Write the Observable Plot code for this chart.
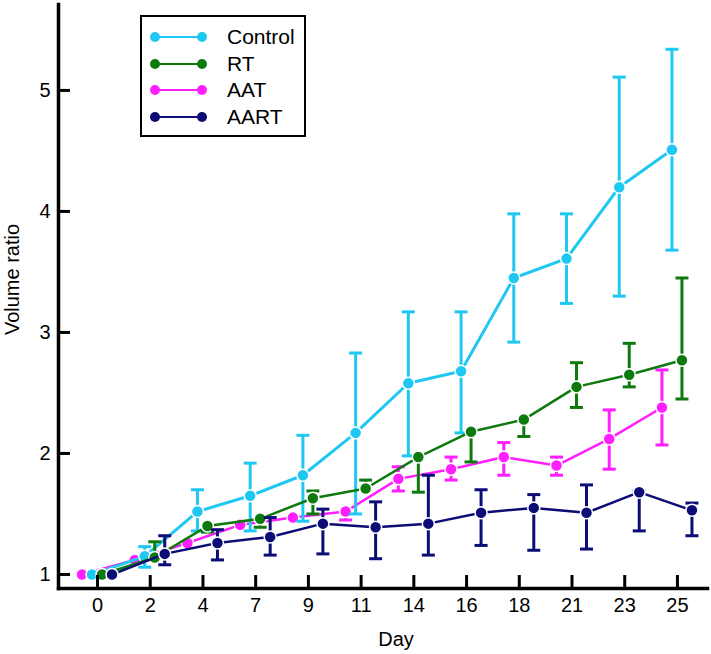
<!DOCTYPE html>
<html>
<head>
<meta charset="utf-8">
<script src="https://cdn.jsdelivr.net/npm/d3@7"></script>
<script src="https://cdn.jsdelivr.net/npm/@observablehq/plot@0.6"></script>
<style>
  body { margin: 0; background: #fff; }
  #wrap { position: relative; width: 711px; height: 654px; font-family: "Liberation Sans", Arial, sans-serif; }
  #legend { position: absolute; left: 140px; top: 15px; width: 162px; height: 118px; border: 2px solid #000; background: #fff; box-sizing: content-box; }
  .row { position: absolute; left: 0; width: 160px; height: 0; }
  .row svg { position: absolute; left: 6px; top: -8px; }
  .row span { position: absolute; left: 85px; top: -13px; font-size: 21px; line-height: 26px; color: #000; white-space: nowrap; }
</style>
</head>
<body>
<div id="wrap"><div id="chart"></div><div id="legend"></div></div>
<script>
// ---- data ----
const days = ["0", "2", "4", "7", "9", "11", "14", "16", "18", "21", "23", "25"];
const seriesNames = ["Control", "RT", "AAT", "AART"];
const seriesColors = ["#1ec8f2", "#0e7a0e", "#ff1eff", "#0c0c76"];

const controlMean = [1.00, 1.15, 1.52, 1.65, 1.82, 2.17, 2.58, 2.68, 3.45, 3.61, 4.20, 4.51];
const controlLow  = [null, 1.06, 1.36, 1.36, 1.44, 1.50, 1.98, 2.17, 2.92, 3.24, 3.30, 3.68];
const controlHigh = [null, 1.23, 1.70, 1.92, 2.15, 2.83, 3.17, 3.17, 3.98, 3.98, 5.11, 5.34];

const rtMean = [1.00, 1.14, 1.40, 1.46, 1.63, 1.71, 1.97, 2.18, 2.28, 2.55, 2.65, 2.77];
const rtLow  = [null, null, 1.35, 1.39, 1.50, null, 1.68, 1.93, 2.14, 2.38, 2.55, 2.45];
const rtHigh = [null, 1.27, null, null, 1.69, 1.78, null, null, null, 2.75, 2.91, 3.45];

const aatMean = [1.00, 1.12, 1.26, 1.41, 1.47, 1.52, 1.79, 1.87, 1.97, 1.90, 2.12, 2.38];
const aatLow  = [null, null, null, null, null, 1.45, 1.69, 1.78, 1.82, 1.82, 1.87, 2.07];
const aatHigh = [null, null, null, null, null, null, 1.89, 1.97, 2.09, 1.97, 2.36, 2.69];

const aartMean = [1.00, 1.17, 1.26, 1.31, 1.42, 1.39, 1.42, 1.51, 1.55, 1.51, 1.68, 1.53];
const aartLow  = [null, 1.08, 1.12, 1.16, 1.17, 1.13, 1.16, 1.24, 1.20, 1.21, 1.36, 1.32];
const aartHigh = [null, 1.32, 1.37, 1.47, 1.54, 1.60, 1.82, 1.70, 1.66, 1.74, 1.69, 1.59];

const yTicks = [1, 2, 3, 4, 5];

// ---- scales config ----
const xMin = -0.74, xMax = 11.57;
const yMin = 0.884, yMax = 5.71;
const W = 711, H = 654, mL = 58, mR = 4, mT = 4, mB = 66;
const frameW = W - mL - mR, frameH = H - mT - mB;
const xTickLen = 13 * (yMax - yMin) / frameH;   // 13px in y units
const yTickLen = 12 * (xMax - xMin) / frameW;   // 12px in x units

const seriesData = [
  {name: "AAT", mean: aatMean, low: aatLow, high: aatHigh, color: seriesColors[2], dx: -15.5, lw: 2.5},
  {name: "Control", mean: controlMean, low: controlLow, high: controlHigh, color: seriesColors[0], dx: -5.5, lw: 3},
  {name: "RT", mean: rtMean, low: rtLow, high: rtHigh, color: seriesColors[1], dx: 4.5, lw: 2.5},
  {name: "AART", mean: aartMean, low: aartLow, high: aartHigh, color: seriesColors[3], dx: 14.5, lw: 2.5}
];

const capSymbol = {
  draw(ctx, size) { const w = Math.sqrt(size / Math.PI); ctx.moveTo(-w, 0); ctx.lineTo(w, 0); }
};

const marks = [];
for (const s of seriesData) {
  const rows = days.map((d, i) => ({i, day: d, v: s.mean[i], lo: s.low[i], hi: s.high[i]}));
  const hiRows = rows.filter(r => r.hi != null);
  const loRows = rows.filter(r => r.lo != null);
  marks.push(
    Plot.line(rows, {x: "i", y: "v", dx: s.dx, stroke: s.color, strokeWidth: s.lw}),
    Plot.ruleX(hiRows, {x: "i", y1: "v", y2: "hi", dx: s.dx, stroke: s.color, strokeWidth: 3}),
    Plot.ruleX(loRows, {x: "i", y1: "v", y2: "lo", dx: s.dx, stroke: s.color, strokeWidth: 3}),
    Plot.dot(hiRows, {x: "i", y: "hi", dx: s.dx, symbol: capSymbol, r: 6.5, stroke: s.color, strokeWidth: 3, fill: "none"}),
    Plot.dot(loRows, {x: "i", y: "lo", dx: s.dx, symbol: capSymbol, r: 6.5, stroke: s.color, strokeWidth: 3, fill: "none"}),
    Plot.dot(rows, {x: "i", y: "v", dx: s.dx, r: 6, fill: s.color, stroke: "#fff", strokeWidth: 1.5})
  );
}

const idx = days.map((d, i) => i);
const xTickRows = idx.map(i => ({x: i, y1: yMin, y2: yMin + xTickLen}));
const yTickRows = yTicks.map(t => ({y: t, x1: xMin, x2: xMin + yTickLen}));
const xAxisLine = [{x: xMin, y: yMin}, {x: xMax, y: yMin}];
const yAxisLine = [{x: xMin, y: yMin}, {x: xMin, y: yMax}];

const chart = Plot.plot({
  width: W,
  height: H,
  marginLeft: mL,
  marginRight: mR,
  marginTop: mT,
  marginBottom: mB,
  style: {fontFamily: "'Liberation Sans', Arial, sans-serif", fontSize: "20px", background: "#fff", color: "#000"},
  x: {domain: [xMin, xMax]},
  y: {domain: [yMin, yMax]},
  marks: [
    ...marks,
    // inward tick marks
    Plot.ruleX(xTickRows, {x: "x", y1: "y1", y2: "y2", stroke: "#000", strokeWidth: 3}),
    Plot.ruleY(yTickRows, {y: "y", x1: "x1", x2: "x2", stroke: "#000", strokeWidth: 3}),
    // tick labels
    Plot.axisX(idx, {tickSize: 0, tickPadding: 9, tickFormat: i => days[i], fontSize: 20, fill: "#000", label: null}),
    Plot.axisY(yTicks, {tickSize: 0, tickPadding: 8, tickFormat: d => String(d), fontSize: 20, fill: "#000", label: null}),
    // axis lines
    Plot.line(xAxisLine, {x: "x", y: "y", stroke: "#000", strokeWidth: 3.5, strokeLinecap: "square"}),
    Plot.line(yAxisLine, {x: "x", y: "y", stroke: "#000", strokeWidth: 3.5, strokeLinecap: "square"}),
    // axis titles
    Plot.text(["Day"], {frameAnchor: "bottom", textAnchor: "middle", lineAnchor: "middle", dx: 13, dy: 51, fontSize: 20, fill: "#000"}),
    Plot.text(["Volume ratio"], {frameAnchor: "left", textAnchor: "middle", lineAnchor: "middle", rotate: -90, dx: -46, dy: -17, fontSize: 20, fill: "#000"})
  ]
});
document.getElementById("chart").appendChild(chart);

// ---- legend ----
const legend = document.getElementById("legend");
seriesNames.forEach((name, j) => {
  const row = document.createElement("div");
  row.className = "row";
  row.style.top = (20 + j * 26.5) + "px";
  const svg = d3.create("svg").attr("width", 62).attr("height", 16);
  svg.append("line").attr("x1", 7).attr("x2", 54).attr("y1", 8).attr("y2", 8)
    .attr("stroke", seriesColors[j]).attr("stroke-width", 2);
  svg.append("circle").attr("cx", 7).attr("cy", 8).attr("r", 5).attr("fill", seriesColors[j]);
  svg.append("circle").attr("cx", 54).attr("cy", 8).attr("r", 5).attr("fill", seriesColors[j]);
  row.appendChild(svg.node());
  const sp = document.createElement("span");
  sp.textContent = name;
  row.appendChild(sp);
  legend.appendChild(row);
});
</script>
</body>
</html>
